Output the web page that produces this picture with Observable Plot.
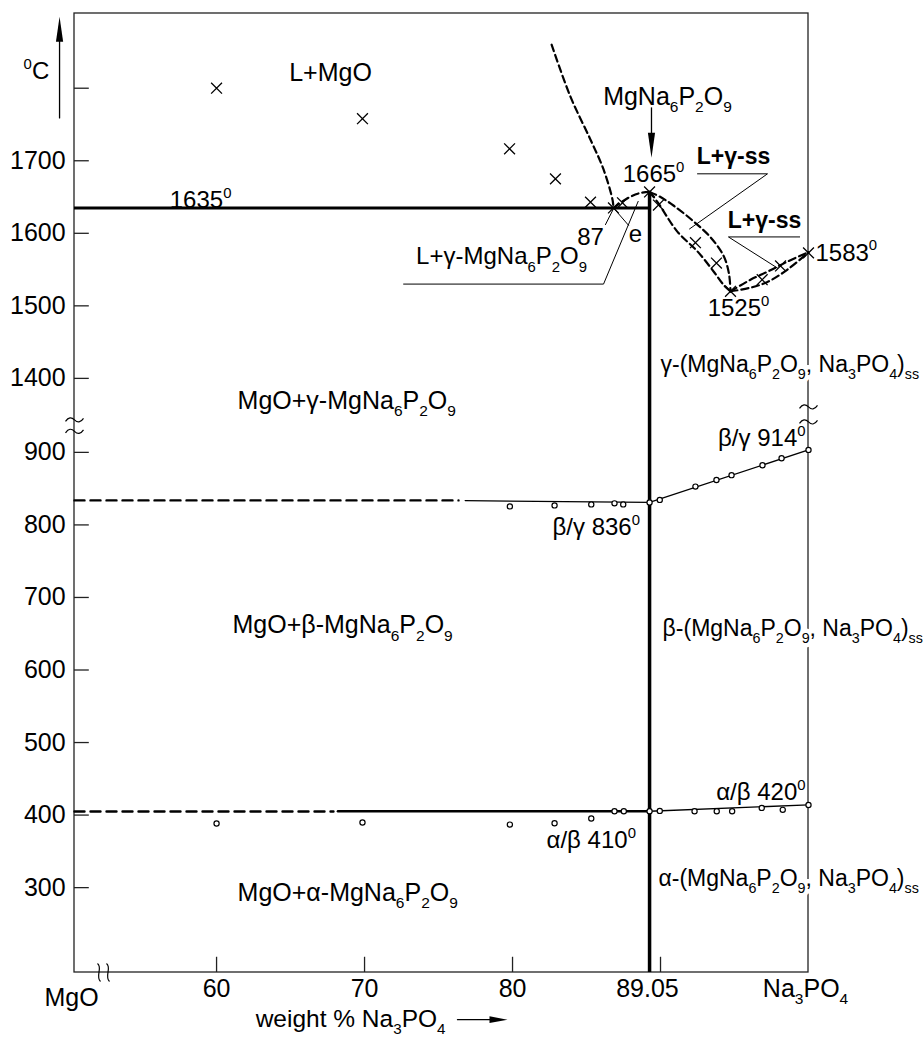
<!DOCTYPE html>
<html>
<head>
<meta charset="utf-8">
<script src="https://cdn.jsdelivr.net/npm/d3@7"></script>
<script src="https://cdn.jsdelivr.net/npm/@observablehq/plot@0.6"></script>
<style>
  body { margin: 0; background: #fff; }
  #chart svg { display: block; }
</style>
</head>
<body>
<div id="chart"></div>
<script>
// ---------- axis values ----------
const yTicks = [1800, 1700, 1600, 1500, 1400, 900, 800, 700, 600, 500, 400, 300];
const yTickLabels = [1700, 1600, 1500, 1400, 900, 800, 700, 600, 500, 400, 300];
const xTicks = [60, 70, 80, 90];
const xLabels = [
  {x: 50.2, t: 148, label: "MgO"},
  {x: 60, t: 160.7, label: "60"},
  {x: 70, t: 160.7, label: "70"},
  {x: 80, t: 160.7, label: "80"},
  {x: 89.12, t: 160.7, label: "89.05"},
  {x: 99.8, t: 160.7, label: "Na_3PO_4"}
];

// ---------- invariant points (wt% Na3PO4, °C) ----------
const congruentX = 89.26;    // MgNa6P2O9
const peakT = 1657;
const eutecticT = 1635;

// ---------- phase boundaries (dashed) ----------
const liqMgO = [[82.64,1860],[83.92,1788],[85.27,1729],[86.15,1688],[86.76,1646],[86.82,1635]];
const liqEutPeak = [[86.82,1635],[87.75,1648],[88.53,1655],[89.26,1657]];
const lensOuter = [[89.26,1657],[90.0,1650],[90.9,1638],[92.2,1617],[93.4,1594],[94.26,1569],[94.62,1545],[94.73,1520]];
const lensInner = [[89.26,1657],[89.8,1643],[91.15,1602],[92.5,1575],[93.6,1547],[94.26,1529],[94.73,1520]];
const lensRightUpper = [[94.73,1520],[96.08,1536],[97.23,1547],[98.58,1561],[100,1574]];
const lensRightLower = [[94.73,1520],[96.08,1525],[97.23,1533],[98.58,1550],[100,1574]];

// ---------- measured points ----------
const liquidusPts = [[60,1800],[69.86,1758],[79.8,1716.5],[82.9,1675],[85.27,1643],[86.82,1635],[87.43,1642],[89.26,1657]];
const lensPts = [[89.86,1639],[92.36,1587],[93.78,1559],[94.73,1520],[96.87,1536],[98.11,1555],[100,1573]];
const betaGammaPts = [[79.82,825.5],[82.84,826.9],[85.32,828.3],[86.89,829.7],[87.48,828.3],[89.26,831],[89.95,834.5],[92.36,852.8],[93.78,862],[94.8,868.6],[96.89,882.3],[98.18,892],[100,903.4]];
const alphaBetaPts = [[60,388.3],[69.86,389.7],[79.82,386.9],[82.84,388.7],[85.32,395.2],[86.89,405.3],[87.52,405.3],[89.26,405.3],[89.95,405.8],[92.3,405.3],[93.8,405.3],[94.84,405.3],[96.84,409.9],[98.26,407.2],[100,414]];

// ---------- transition lines ----------
const bgDashed = [[50.4,833.8],[76.35,833.8]];
const bgSolid = [[76.8,833.5],[89.26,831]];
const bgSs = [[89.26,831],[100,903.4]];
const abDashed = [[50.4,405],[67.9,405]];
const abSolid = [[68.2,405.3],[89.26,405.3]];
const abSs = [[89.26,405.3],[100,414]];

// ---------- annotations ----------
const labels = [
  {x: 46.96, t: 1822.8, text: "^0C", anchor: "start", size: 24},
  {x: 67.7, t: 1821, text: "L+MgO", anchor: "middle", size: 25},
  {x: 90.47, t: 1788, text: "MgNa_6P_2O_9", anchor: "middle", size: 25},
  {x: 89.53, t: 1680.7, text: "1665^0", anchor: "middle", size: 24},
  {x: 58.92, t: 1646, text: "1635^0", anchor: "middle", size: 24},
  {x: 85.27, t: 1594, text: "87", anchor: "middle", size: 24},
  {x: 88.31, t: 1598, text: "e", anchor: "middle", size: 24},
  {x: 79.26, t: 1567.6, text: "L+γ-MgNa_6P_2O_9", anchor: "middle", size: 24},
  {x: 95.27, t: 1496, text: "1525^0", anchor: "middle", size: 24},
  {x: 100.47, t: 1573, text: "1583^0", anchor: "start", size: 24},
  {x: 61.42, t: 1369, text: "MgO+γ-MgNa_6P_2O_9", anchor: "start", size: 25},
  {x: 61.08, t: 661.4, text: "MgO+β-MgNa_6P_2O_9", anchor: "start", size: 25},
  {x: 61.42, t: 293, text: "MgO+α-MgNa_6P_2O_9", anchor: "start", size: 25},
  {x: 99.8, t: 919, text: "β/γ 914^0", anchor: "end", size: 24},
  {x: 82.7, t: 796.6, text: "β/γ 836^0", anchor: "start", size: 24},
  {x: 99.8, t: 431, text: "α/β 420^0", anchor: "end", size: 24},
  {x: 82.3, t: 364.8, text: "α/β 410^0", anchor: "start", size: 24},
  {x: 62.64, t: 119.3, text: "weight % Na_3PO_4", anchor: "start", size: 24.5}
];
const boldLabels = [
  {x: 94.93, t: 1705.5, text: "L+γ-ss"},
  {x: 97.03, t: 1617, text: "L+γ-ss"}
];
const phaseSsLabels = [
  {x: 90.0, t: 1418.6, text: "γ-(MgNa_6P_2O_9, Na_3PO_4)_s_s"},
  {x: 90.14, t: 657.2, text: "β-(MgNa_6P_2O_9, Na_3PO_4)_s_s"},
  {x: 89.86, t: 312.4, text: "α-(MgNa_6P_2O_9, Na_3PO_4)_s_s"}
];
const callouts = [
  [[72.64,1530],[86.15,1530],[88.49,1644]],
  [[92.5,1682],[97.23,1682],[91.96,1606]],
  [[99.4,1595],[94.59,1595],[97.91,1552]],
  [[86.28,1612],[86.9,1637]],
  [[86.82,1635],[87.84,1611]]
];
const breakMarksY = [{x: 50.4, t: 1342.8}, {x: 50.4, t: 929}, {x: 100, t: 1360.7}, {x: 100, t: 1340}];
const breakMarkX = [{x: 52.36, t: 183}];
const arrowShafts = [
  [[49.39,1759],[49.39,1880]],
  [[89.39,1773],[89.39,1720]],
  [[76.28,118],[78.6,118]]
];
const arrowTipsUp = [[49.39,1898.6]];
const arrowTipsDown = [[89.39,1704]];
const arrowTipsRight = [[79.66,118]];

// ---------- symbols ----------
const headUp = {draw(c){ c.moveTo(0,0); c.lineTo(-3.6,25); c.lineTo(3.6,25); c.closePath(); }};
const headDown = {draw(c){ c.moveTo(0,0); c.lineTo(-3.6,-25); c.lineTo(3.6,-25); c.closePath(); }};
const headRight = {draw(c){ c.moveTo(0,0); c.lineTo(-18,-3.4); c.lineTo(-18,3.4); c.closePath(); }};
const tildeSym = {draw(c){ c.moveTo(-9,1.5); c.bezierCurveTo(-6,-3,-3,-3,0,0); c.bezierCurveTo(3,3,6,3,9,-1.5); }};
const sBreakSym = {draw(c){
  for (const dx of [-4.5, 4.5]) { c.moveTo(dx - 1.5, -9); c.bezierCurveTo(dx + 4, -5, dx - 4, 4, dx + 1.5, 9); }
}};

// broken temperature axis: 937–1335 °C collapsed
const breakLo = 937, breakHi = 1335;
const collapse = T => T <= breakLo ? T : T >= breakHi ? T - (breakHi - breakLo) : breakLo;

const X0 = 50.4, X1 = 100, T0 = 183, T1 = 1903;
const px = d => d[0], py = d => d[1];
const dashedCurve = (data) => Plot.line(data, {x: px, y: py, curve: "catmull-rom", stroke: "black", strokeWidth: 2.2, strokeDasharray: "7,4"});
const FS = 25;
const textOpts = (anchor, extra = {}) => ({x: "x", y: "t", text: "text", textAnchor: anchor, fontSize: FS, fill: "black", ...extra});
const labelMarks = [];
for (const anchor of ["start", "middle", "end"]) {
  for (const size of [24, 24.5, 25]) {
    const group = labels.filter(d => d.anchor === anchor && d.size === size);
    if (group.length) labelMarks.push(Plot.text(group, textOpts(anchor, {fontSize: size})));
  }
}

const chart = Plot.plot({
  width: 923,
  height: 1037,
  margin: 0,
  x: {domain: [X0, X1], range: [74, 808], axis: null},
  y: {transform: collapse, domain: [collapse(T0), collapse(T1)], range: [972, 13], axis: null},
  style: {fontFamily: "'Liberation Sans', Arial, Helvetica, sans-serif", fontSize: "24px", background: "white", color: "black", overflow: "visible"},
  marks: [
    // frame
    Plot.rect([{x1: X0, x2: X1, y1: T0, y2: T1}], {x1: "x1", x2: "x2", y1: "y1", y2: "y2", fill: "none", stroke: "#222", strokeWidth: 1.3}),
    // ticks
    Plot.ruleY(yTicks, {y: d => d, x1: () => X0, x2: () => X0 + 1.0, stroke: "#222", strokeWidth: 1.3}),
    Plot.ruleX(xTicks, {x: d => d, y1: () => T0, y2: () => T0 + 21, stroke: "#222", strokeWidth: 1.3}),
    // transition lines
    Plot.line(bgDashed, {x: px, y: py, stroke: "black", strokeWidth: 2.4, strokeDasharray: "10,6"}),
    Plot.line(bgSolid, {x: px, y: py, stroke: "black", strokeWidth: 1.3}),
    Plot.line(bgSs, {x: px, y: py, stroke: "black", strokeWidth: 1.3}),
    Plot.line(abDashed, {x: px, y: py, stroke: "black", strokeWidth: 2.4, strokeDasharray: "10,6"}),
    Plot.line(abSolid, {x: px, y: py, stroke: "black", strokeWidth: 2.4}),
    Plot.line(abSs, {x: px, y: py, stroke: "black", strokeWidth: 1.3}),
    // dashed phase boundaries
    dashedCurve(liqMgO),
    dashedCurve(liqEutPeak),
    dashedCurve(lensOuter),
    dashedCurve(lensInner),
    dashedCurve(lensRightUpper),
    dashedCurve(lensRightLower),
    // eutectic & congruent compound
    Plot.ruleY([eutecticT], {y: d => d, x1: () => X0, x2: () => congruentX, stroke: "black", strokeWidth: 3}),
    Plot.ruleX([congruentX], {x: d => d, y1: () => T0, y2: () => peakT, stroke: "black", strokeWidth: 3.5}),
    // callouts & arrows
    ...callouts.map(c => Plot.line(c, {x: px, y: py, stroke: "black", strokeWidth: 1})),
    ...arrowShafts.map(a => Plot.line(a, {x: px, y: py, stroke: "black", strokeWidth: 1.3})),
    Plot.dot(arrowTipsUp, {x: px, y: py, symbol: headUp, fill: "black", stroke: "none"}),
    Plot.dot(arrowTipsDown, {x: px, y: py, symbol: headDown, fill: "black", stroke: "none"}),
    Plot.dot(arrowTipsRight, {x: px, y: py, symbol: headRight, fill: "black", stroke: "none"}),
    // measured points
    Plot.dot(liquidusPts, {x: px, y: py, symbol: "times", r: 5, stroke: "black", strokeWidth: 1.3}),
    Plot.dot(lensPts, {x: px, y: py, symbol: "times", r: 5, stroke: "black", strokeWidth: 1.3}),
    Plot.dot(betaGammaPts, {x: px, y: py, r: 2.6, fill: "white", stroke: "black", strokeWidth: 1.2}),
    Plot.dot(alphaBetaPts, {x: px, y: py, r: 2.6, fill: "white", stroke: "black", strokeWidth: 1.2}),
    // axis break marks
    Plot.dot(breakMarksY, {x: "x", y: "t", symbol: tildeSym, fill: "none", stroke: "black", strokeWidth: 1.2}),
    Plot.dot(breakMarkX, {x: "x", y: "t", symbol: sBreakSym, fill: "none", stroke: "black", strokeWidth: 1.2}),
    // axis labels
    Plot.text(yTickLabels, {x: () => 49.8, y: d => d, text: d => String(d), textAnchor: "end", fontSize: FS, fill: "black"}),
    Plot.text(xLabels, {x: "x", y: "t", text: "label", fontSize: FS, fill: "black"}),
    // annotations
    ...labelMarks,
    Plot.text(boldLabels, textOpts("middle", {fontSize: 23, fontWeight: "bold"})),
    // solid-solution labels: white knock-out behind, then the text
    Plot.text(phaseSsLabels, textOpts("start", {fontSize: 23, fill: "white", stroke: "white", strokeWidth: 9, strokeLinejoin: "round"})),
    Plot.text(phaseSsLabels, textOpts("start", {fontSize: 23}))
  ]
});

document.getElementById("chart").appendChild(chart);

// sub/superscript rendering: "_x" -> subscript, "^x" -> superscript
(function richText(svg) {
  const NS = "http://www.w3.org/2000/svg";
  svg.querySelectorAll("text").forEach(el => {
    const s = el.textContent;
    if (!/[_^]/.test(s)) return;
    const fs = parseFloat(getComputedStyle(el).fontSize) || FS;
    const segs = [];
    for (let i = 0; i < s.length; i++) {
      let mode = "n", ch = s[i];
      if ((ch === "_" || ch === "^") && i + 1 < s.length) { mode = ch === "_" ? "sub" : "sup"; ch = s[++i]; }
      const last = segs[segs.length - 1];
      if (last && last.mode === mode) last.text += ch; else segs.push({mode, text: ch});
    }
    while (el.firstChild) el.removeChild(el.firstChild);
    let cur = 0;
    for (const seg of segs) {
      const t = document.createElementNS(NS, "tspan");
      const target = seg.mode === "sub" ? 0.3 * fs : seg.mode === "sup" ? -0.42 * fs : 0;
      if (seg.mode !== "n") t.setAttribute("font-size", (0.62 * fs).toFixed(1));
      if (target !== cur) t.setAttribute("dy", (target - cur).toFixed(1));
      cur = target;
      t.textContent = seg.text;
      el.appendChild(t);
    }
  });
})(chart);
</script>
</body>
</html>
